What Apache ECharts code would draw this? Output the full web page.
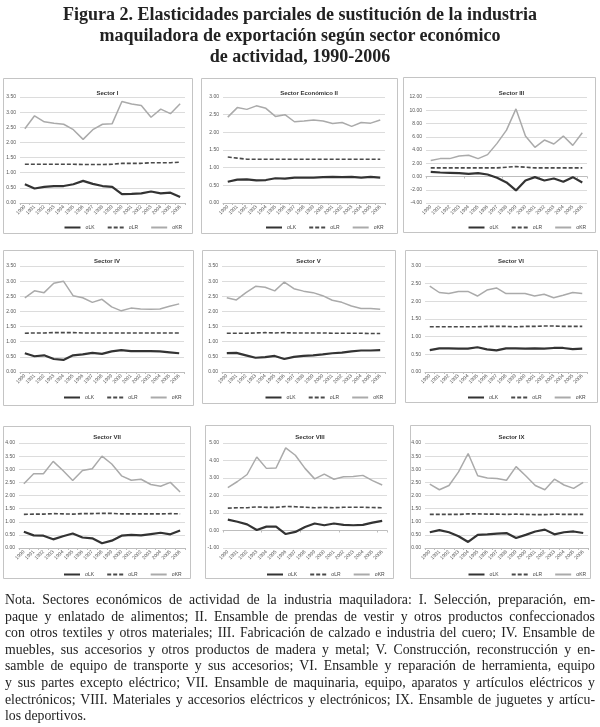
<!DOCTYPE html>
<html>
<head>
<meta charset="utf-8">
<script src="https://cdn.jsdelivr.net/npm/echarts@6/dist/echarts.min.js"></script>
<style>
  html, body { margin:0; padding:0; background:#fff; }
  #wrap { position:relative; width:600px; height:727px; overflow:hidden; }
  #chart { position:absolute; left:0; top:0; width:600px; height:727px; }
  #title { position:absolute; left:0; top:4px; width:600px; text-align:center;
           font-family:"Liberation Serif","DejaVu Serif",serif; font-weight:bold;
           font-size:18px; line-height:21px; color:#222; pointer-events:none; }
  #note { position:absolute; left:5px; top:592px; width:590px;
          font-family:"Liberation Serif","DejaVu Serif",serif; font-size:13.8px;
          line-height:16.6px; color:#222; pointer-events:none; }
  #note .l { text-align:justify; text-align-last:justify; white-space:nowrap; }
  #note .last { text-align:left; text-align-last:left; }
</style>
</head>
<body>
<div id="wrap">
  <div id="chart"></div>
  <div id="title">Figura 2. Elasticidades parciales de sustitución de la industria<br>maquiladora de exportación según sector económico<br>de actividad, 1990-2006</div>
  <div id="note">
    <div class="l">Nota. Sectores económicos de actividad de la industria maquiladora: I. Selección, preparación, em-</div>
    <div class="l">paque y enlatado de alimentos; II. Ensamble de prendas de vestir y otros productos confeccionados</div>
    <div class="l">con otros textiles y otros materiales; III. Fabricación de calzado e industria del cuero; IV. Ensamble de</div>
    <div class="l">muebles, sus accesorios y otros productos de madera y metal; V. Construcción, reconstrucción y en-</div>
    <div class="l">samble de equipo de transporte y sus accesorios; VI. Ensamble y reparación de herramienta, equipo</div>
    <div class="l">y sus partes excepto eléctrico; VII. Ensamble de maquinaria, equipo, aparatos y artículos eléctricos y</div>
    <div class="l">electrónicos; VIII. Materiales y accesorios eléctricos y electrónicos; IX. Ensamble de juguetes y artícu-</div>
    <div class="l last">los deportivos.</div>
  </div>
</div>
<script>
// ---- data ----
const years = ['1990','1991','1992','1993','1994','1995','1996','1997','1998','1999','2000','2001','2002','2003','2004','2005','2006'];
const seriesNames = ['σLK','σLR','σKR'];
const panelTitles = ['Sector I','Sector Económico II','Sector III','Sector IV','Sector V','Sector VI','Sector VII','Sector VIII','Sector IX'];

const lk1 = [0.62,0.48,0.53,0.56,0.56,0.62,0.73,0.63,0.56,0.53,0.29,0.30,0.32,0.38,0.32,0.34,0.20];
const lr1 = [1.28,1.28,1.28,1.28,1.28,1.28,1.27,1.27,1.27,1.28,1.31,1.31,1.31,1.33,1.33,1.33,1.35];
const kr1 = [2.45,2.88,2.68,2.63,2.60,2.42,2.10,2.42,2.60,2.62,3.35,3.27,3.22,2.83,3.10,2.95,3.28];

const lk2 = [0.60,0.66,0.67,0.64,0.65,0.70,0.69,0.72,0.72,0.72,0.73,0.74,0.73,0.74,0.72,0.74,0.72];
const lr2 = [1.30,1.27,1.24,1.24,1.24,1.24,1.24,1.24,1.24,1.24,1.24,1.24,1.24,1.24,1.24,1.24,1.24];
const kr2 = [2.43,2.70,2.65,2.75,2.68,2.45,2.50,2.30,2.32,2.35,2.32,2.25,2.28,2.17,2.28,2.26,2.35];

const lk3 = [0.70,0.60,0.55,0.50,0.40,0.50,0.30,-0.20,-0.90,-2.10,-0.60,-0.10,-0.60,-0.30,-0.80,-0.10,-0.90];
const lr3 = [1.30,1.30,1.30,1.30,1.30,1.30,1.30,1.30,1.40,1.50,1.40,1.30,1.30,1.30,1.30,1.30,1.30];
const kr3 = [2.40,2.70,2.70,3.10,3.20,2.70,3.30,5.00,7.00,10.20,6.10,4.40,5.50,4.90,6.10,4.70,6.60];

const lk4 = [0.62,0.52,0.55,0.43,0.40,0.55,0.58,0.63,0.60,0.68,0.72,0.69,0.69,0.69,0.68,0.65,0.62];
const lr4 = [1.28,1.29,1.29,1.30,1.30,1.30,1.29,1.29,1.29,1.29,1.29,1.29,1.29,1.29,1.29,1.29,1.29];
const kr4 = [2.45,2.68,2.62,2.93,3.00,2.52,2.45,2.30,2.40,2.15,2.02,2.11,2.08,2.07,2.08,2.17,2.25];

const lk5 = [0.62,0.63,0.55,0.47,0.49,0.53,0.43,0.50,0.53,0.55,0.58,0.62,0.64,0.68,0.71,0.71,0.72];
const lr5 = [1.28,1.28,1.28,1.29,1.30,1.29,1.30,1.29,1.29,1.29,1.29,1.28,1.28,1.28,1.28,1.27,1.27];
const kr5 = [2.45,2.38,2.62,2.83,2.80,2.68,2.97,2.75,2.67,2.62,2.52,2.37,2.30,2.18,2.10,2.10,2.07];

const lk6 = [0.62,0.67,0.67,0.66,0.66,0.70,0.64,0.61,0.67,0.67,0.66,0.67,0.66,0.68,0.68,0.65,0.66];
const lr6 = [1.28,1.28,1.28,1.28,1.28,1.28,1.29,1.29,1.29,1.28,1.29,1.29,1.30,1.30,1.29,1.29,1.29];
const kr6 = [2.43,2.25,2.22,2.28,2.28,2.15,2.32,2.38,2.22,2.22,2.22,2.15,2.20,2.10,2.17,2.25,2.22];

const lk7 = [0.62,0.48,0.47,0.33,0.45,0.55,0.40,0.37,0.18,0.28,0.47,0.50,0.48,0.53,0.58,0.52,0.67];
const lr7 = [1.28,1.29,1.29,1.31,1.30,1.29,1.31,1.31,1.32,1.32,1.30,1.30,1.30,1.30,1.30,1.31,1.30];
const kr7 = [2.45,2.83,2.83,3.30,2.95,2.57,2.95,3.02,3.50,3.20,2.75,2.58,2.62,2.42,2.35,2.50,2.13];

const lk8 = [0.62,0.50,0.35,0.03,0.22,0.22,-0.20,-0.08,0.20,0.40,0.30,0.40,0.32,0.30,0.32,0.45,0.55];
const lr8 = [1.28,1.30,1.30,1.35,1.32,1.32,1.37,1.36,1.33,1.30,1.32,1.30,1.33,1.33,1.33,1.31,1.30];
const kr8 = [2.45,2.80,3.20,4.20,3.55,3.57,4.72,4.30,3.55,2.95,3.22,2.93,3.07,3.08,3.15,2.85,2.60];

const lk9 = [0.60,0.68,0.60,0.45,0.23,0.50,0.52,0.55,0.57,0.38,0.50,0.63,0.70,0.52,0.60,0.63,0.57];
const lr9 = [1.28,1.28,1.28,1.28,1.30,1.30,1.29,1.29,1.28,1.29,1.28,1.27,1.27,1.29,1.28,1.28,1.28];
const kr9 = [2.43,2.22,2.38,2.90,3.60,2.75,2.67,2.65,2.58,3.10,2.75,2.38,2.22,2.62,2.40,2.27,2.50];

// y-axis ranges [min, max, interval]
const yMin = [0, 0, -4, 0, 0, 0, 0, -1, 0];
const yMax = [3.5, 3.0, 12, 3.5, 3.5, 3.0, 4.0, 5, 4.0];
const yStep = [0.5, 0.5, 2, 0.5, 0.5, 0.5, 0.5, 1, 0.5];

const panelData = [
  [lk1, lr1, kr1], [lk2, lr2, kr2], [lk3, lr3, kr3],
  [lk4, lr4, kr4], [lk5, lr5, kr5], [lk6, lr6, kr6],
  [lk7, lr7, kr7], [lk8, lr8, kr8], [lk9, lr9, kr9]
];

// ---- layout (pixels) ----
const plotX = [[20,185],[223,385],[426,587],[20,184],[222,385],[425,587],[19,185],[223,387],[425,588]];
const rowY = [[97,203],[266,372],[443,548]];
const titleY = [85, 253, 429];
const legendY = [220, 390, 567];
const boxes = [[3,78,192,233],[201,78,397,233],[403,77,595,232],
               [3,250,193,405],[202,250,395,403],[405,250,597,402],
               [3,426,190,578],[205,425,393,578],[410,425,590,578]];

const styles = [
  { color:'#333333', width:2.2, type:'solid' },
  { color:'#4a4a4a', width:1.6, type:[4,2] },
  { color:'#aaaaaa', width:1.5, type:'solid' }
];

const grids = [], xAxes = [], extraAxes = [], yAxes = [], series = [], titles = [], legends = [], graphics = [];
for (let p = 0; p < 9; p++) {
  const r = Math.floor(p / 3);
  const [x0, x1] = plotX[p];
  const [y0, y1] = rowY[r];
  const hasNeg = yMin[p] < 0;
  grids.push({ left:x0, top:y0, width:x1-x0, height:y1-y0, containLabel:false });
  xAxes.push({
    type:'category', gridIndex:p, data:years, boundaryGap:true,
    axisLine:{ show:!hasNeg, onZero:false, lineStyle:{ color:'#bdbdbd', width:1 } },
    axisTick:{ show:!hasNeg, length:2, lineStyle:{ color:'#bdbdbd' } },
    axisLabel:{ rotate:45, fontSize:5, color:'#555', margin:3, interval:0, fontFamily:'Liberation Sans' }
  });
  if (hasNeg) {
    extraAxes.push({
      type:'category', gridIndex:p, data:years, boundaryGap:true, position:'bottom',
      axisLine:{ show:true, onZero:true, lineStyle:{ color:'#bdbdbd', width:1 } },
      axisTick:{ show:true, length:2, lineStyle:{ color:'#bdbdbd' } },
      axisLabel:{ show:false }, splitLine:{ show:false }
    });
  }
  yAxes.push({
    type:'value', gridIndex:p, min:yMin[p], max:yMax[p], interval:yStep[p],
    axisLine:{ show:false }, axisTick:{ show:false },
    splitLine:{ lineStyle:{ color:'#dcdcdc', width:1 } },
    axisLabel:{ fontSize:5, color:'#555', margin:4, fontFamily:'Liberation Sans',
                formatter: v => v.toFixed(2) }
  });
  for (let s = 0; s < 3; s++) {
    series.push({
      name:seriesNames[s], type:'line', xAxisIndex:p, yAxisIndex:p,
      data:panelData[p][s], symbol:'none', smooth:false,
      lineStyle:{ color:styles[s].color, width:styles[s].width, type:styles[s].type },
      itemStyle:{ color:styles[s].color }, silent:true, animation:false, z: 3 - s
    });
  }
  const cx = (x0 + x1) / 2;
  titles.push({
    text:panelTitles[p], left:cx, top:titleY[r], textAlign:'center',
    textStyle:{ fontSize:6, fontWeight:'bold', color:'#333', fontFamily:'Liberation Sans' }
  });
  legends.push({
    data:seriesNames, left:cx - 44, top:legendY[r], orient:'horizontal',
    itemWidth:16, itemHeight:6, itemGap:12, selectedMode:false,
    itemStyle:{ opacity:0 },
    textStyle:{ fontSize:5, color:'#444', fontFamily:'Liberation Sans' }
  });
  const b = boxes[p];
  graphics.push({
    type:'rect', shape:{ x:b[0]+0.5, y:b[1]+0.5, width:b[2]-b[0], height:b[3]-b[1] },
    style:{ fill:'none', stroke:'#c4c4c4', lineWidth:1 }, silent:true, z:-1
  });
}

const chart = echarts.init(document.getElementById('chart'), null, { renderer:'canvas' });
chart.setOption({
  animation:false,
  backgroundColor:'#ffffff',
  title:titles, legend:legends, grid:grids, xAxis:xAxes.concat(extraAxes), yAxis:yAxes,
  series:series, graphic:graphics
});
</script>
</body>
</html>
